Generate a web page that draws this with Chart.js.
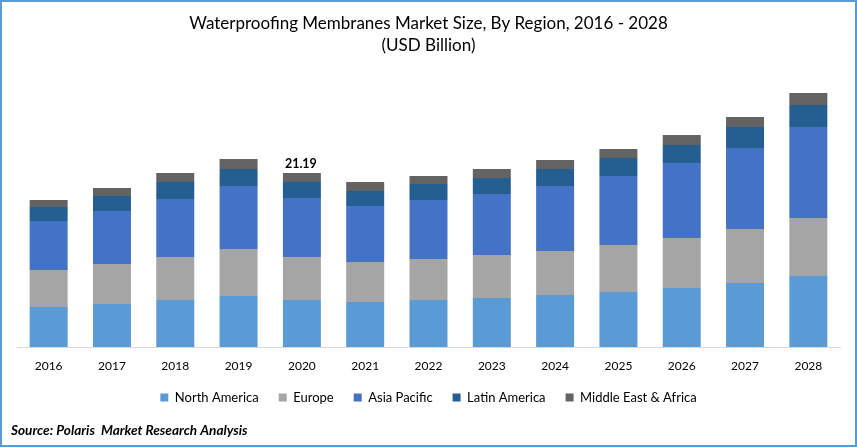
<!DOCTYPE html>
<html>
<head>
<meta charset="utf-8">
<title>Waterproofing Membranes Market Size</title>
<script src="https://cdn.jsdelivr.net/npm/chart.js@4"></script>
<style>
    html, body { margin: 0; padding: 0; background: #fff; }
    canvas { display: block; }
</style>
</head>
<body>
<canvas id="chart" width="857" height="447"></canvas>
<script>
const years = ['2016', '2017', '2018', '2019', '2020', '2021', '2022', '2023', '2024', '2025', '2026', '2027', '2028'];
const northAmerica = [4.87, 5.24, 5.72, 6.21, 5.72, 5.48, 5.72, 5.97, 6.33, 6.70, 7.19, 7.80, 8.65];
const europe = [4.51, 4.87, 5.24, 5.72, 5.24, 4.87, 4.99, 5.24, 5.36, 5.72, 6.09, 6.58, 7.06];
const asiaPacific = [5.97, 6.46, 7.06, 7.67, 7.19, 6.82, 7.19, 7.43, 7.92, 8.40, 9.14, 9.87, 11.08];
const latinAmerica = [1.71, 1.83, 2.07, 2.07, 1.95, 1.83, 1.95, 1.95, 2.07, 2.19, 2.19, 2.56, 2.68];
const middleEast = [0.85, 0.97, 1.10, 1.22, 1.09, 1.10, 0.97, 1.10, 1.10, 1.10, 1.22, 1.22, 1.46];
const labelledYear = '2020';
const labelledTotal = '21.19';

const FONT = 'Lato, sans-serif';

// frame, total label above 2020 and the source line
const extras = {
    id: 'extras',
    afterDraw: (chart) => {
        const ctx = chart.ctx;
        const meta = chart.getDatasetMeta(4);
        const bar = meta.data[years.indexOf(labelledYear)];

        ctx.save();
        ctx.fillStyle = '#000';
        ctx.font = `bold 12.5px ${FONT}`;
        ctx.textAlign = 'center';
        ctx.fillText(labelledTotal, bar.x - 1, bar.y - 9);

        ctx.font = `italic bold 13.6px ${FONT}`;
        ctx.textAlign = 'left';
        ctx.fillText('Source: Polaris  Market Research Analysis', 11, 431);

        ctx.strokeStyle = '#5b9bd5';
        ctx.lineWidth = 3;
        ctx.strokeRect(0.5, 0.5, chart.width - 1, chart.height - 1);
        ctx.restore();
    }
};

new Chart(document.getElementById('chart'), {
    type: 'bar',
    plugins: [extras],
    data: {
        labels: years,
        datasets: [
            { label: 'North America', data: northAmerica, backgroundColor: '#5b9bd5' },
            { label: 'Europe', data: europe, backgroundColor: '#a5a5a5' },
            { label: 'Asia Pacific', data: asiaPacific, backgroundColor: '#4472c4' },
            { label: 'Latin America', data: latinAmerica, backgroundColor: '#255e91' },
            { label: 'Middle East & Africa', data: middleEast, backgroundColor: '#636363' }
        ]
    },
    options: {
        responsive: false,
        animation: false,
        layout: { padding: { left: 17, right: 17, top: 13, bottom: 33 } },
        datasets: { bar: { barPercentage: 0.6, categoryPercentage: 1 } },
        plugins: {
            tooltip: { enabled: false },
            title: {
                display: true,
                text: ['Waterproofing Membranes Market Size, By Region, 2016 - 2028', '(USD Billion)'],
                color: '#000',
                font: { family: FONT, size: 17, weight: 'normal', lineHeight: 1.294 },
                padding: { top: 0, bottom: 27.3 }
            },
            legend: {
                display: true,
                position: 'bottom',
                labels: {
                    color: '#000',
                    font: { family: FONT, size: 13 },
                    boxWidth: 8,
                    boxHeight: 8,
                    padding: 20
                }
            }
        },
        scales: {
            x: {
                stacked: true,
                grid: { display: false },
                border: { color: '#d9d9d9' },
                ticks: { color: '#000', font: { family: FONT, size: 12 }, maxRotation: 0, padding: 4 },
                // labels may sit close to the legend, so don't let them push the plot up
                afterFit: (scale) => { scale.height = 24; }
            },
            y: {
                stacked: true,
                display: false,
                min: 0,
                max: 32
            }
        }
    }
});
</script>
</body>
</html>
